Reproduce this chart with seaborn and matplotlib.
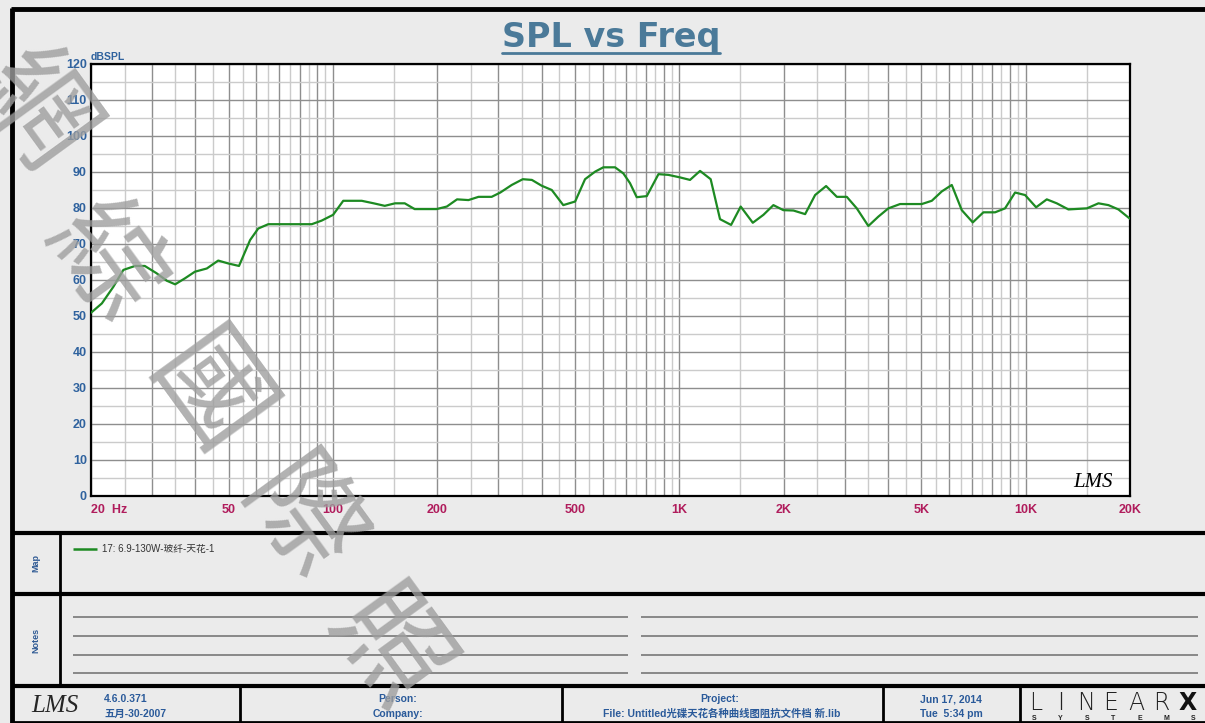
import matplotlib
matplotlib.use('Agg')
import matplotlib.pyplot as plt
import seaborn as sns
import pandas as pd
from matplotlib.lines import Line2D
from matplotlib.ticker import FixedLocator, NullFormatter

# SPL curve (Hz, dBSPL)
freq = [20, 21.5, 23.2, 24.8, 26.8, 28.6, 30.9, 33.1, 35.0, 37.4, 39.9, 43.2,
        46.6, 49.8, 53.5, 57.6, 60.8, 65.0, 86.8, 92.7, 100, 107, 121, 131,
        141, 151, 161, 172, 199, 213, 228, 246, 263, 287, 304, 328, 353, 375,
        400, 428, 462, 500, 534, 571, 603, 652, 689, 720, 753, 805, 870, 929,
        1004, 1073, 1147, 1231, 1310, 1410, 1503, 1629, 1748, 1868, 1996, 2134,
        2307, 2465, 2652, 2848, 3043, 3252, 3512, 3753, 4012, 4336, 5010, 5354,
        5722, 6115, 6536, 7032, 7545, 8155, 8715, 9316, 9956, 10713, 11502,
        12291, 13281, 15014, 16215, 17332, 18520, 20000]
spl = [50.9, 53.5, 58.1, 62.8, 63.9, 63.9, 61.9, 59.8, 58.8, 60.5, 62.3, 63.2,
       65.4, 64.6, 63.9, 71.1, 74.3, 75.5, 75.5, 76.5, 78.1, 82.0, 82.0, 81.3,
       80.6, 81.3, 81.3, 79.7, 79.7, 80.4, 82.4, 82.2, 83.1, 83.1, 84.3, 86.4,
       88.0, 87.8, 86.2, 85.0, 80.8, 81.8, 88.0, 90.1, 91.3, 91.3, 89.6, 86.9,
       83.0, 83.3, 89.4, 89.2, 88.5, 87.8, 90.3, 88.0, 76.9, 75.3, 80.4, 75.9,
       78.1, 80.8, 79.4, 79.3, 78.3, 83.6, 86.1, 83.1, 83.1, 79.9, 75.0, 77.6,
       79.9, 81.1, 81.1, 82.0, 84.6, 86.4, 79.4, 76.0, 78.8, 78.8, 79.9, 84.3,
       83.6, 80.2, 82.4, 81.3, 79.6, 79.9, 81.3, 80.8, 79.6, 77.0]

x_ticks = [20, 50, 100, 200, 500, 1000, 2000, 5000, 10000, 20000]
x_labels = ['20  Hz', '50', '100', '200', '500', '1K', '2K', '5K', '10K', '20K']
y_ticks = list(range(0, 121, 10))

curve_name = '17: 6.9-130W-玻纤-天花-1'
watermark = ['網', '綜', '國', '際', '照']

df = pd.DataFrame({'freq': freq, 'spl': spl})

W, H = 1205, 723
def fx(x):
    return x / W
def fy(y):
    return 1 - y / H

sns.set_style('white')
plt.rcParams['font.family'] = ['Liberation Sans', 'Noto Sans CJK SC', 'DejaVu Sans']

fig = plt.figure(figsize=(12.05, 7.23), dpi=100, facecolor='#ebebeb')
ax = fig.add_axes([fx(91), fy(496), fx(1130) - fx(91), fy(64) - fy(496)])
ax.set_facecolor('white')

sns.lineplot(data=df, x='freq', y='spl', color='#1d8a22', lw=1.6, ax=ax, zorder=3)

ax.set_xscale('log')
ax.set_xlim(20, 20000)
ax.set_ylim(0, 120)

major_x = [m * d for d in [10, 100, 1000, 10000] for m in range(1, 10) if 20 <= m * d <= 20000]
minor_x = [(m + 0.5) * d for d in [10, 100, 1000, 10000] for m in range(1, 10) if 20 <= (m + 0.5) * d <= 20000]
ax.xaxis.set_major_locator(FixedLocator(major_x))
ax.xaxis.set_minor_locator(FixedLocator(minor_x))
ax.xaxis.set_minor_formatter(NullFormatter())
ax.set_xticklabels([x_labels[x_ticks.index(v)] if v in x_ticks else '' for v in major_x])
ax.set_yticks(y_ticks)
ax.set_yticks(list(range(5, 120, 10)), minor=True)

ax.grid(which='major', color='#8e8e8e', lw=1.0)
ax.grid(which='minor', color='#cbcbcb', lw=1.0)
ax.tick_params(which='both', length=0)
ax.tick_params(axis='x', pad=6, labelsize=9, labelcolor='#b01c5c')
ax.tick_params(axis='y', pad=3, labelsize=9, labelcolor='#2f629e')
for lab in ax.get_xticklabels() + ax.get_yticklabels():
    lab.set_fontweight('bold')
ax.get_xticklabels()[0].set_horizontalalignment('left')
for s in ax.spines.values():
    s.set_color('black')
    s.set_linewidth(1.6)
ax.set_xlabel('')
ax.set_ylabel('')

ax.text(0, 1.005, 'dBSPL', transform=ax.transAxes, fontsize=7.5, fontweight='bold',
        color='#2f629e', ha='left', va='bottom')
ax.text(0.964, 0.032, 'LMS', transform=ax.transAxes, fontsize=15, style='italic',
        family='Liberation Serif', ha='center', va='center', color='black')

# title with underline
title = fig.text(fx(611), fy(38), 'SPL vs Freq', fontsize=24, fontweight='bold',
                 family='DejaVu Sans', color='#4b7a99', ha='center', va='center')
fig.canvas.draw()
bb = title.get_window_extent().transformed(fig.transFigure.inverted())
fig.add_artist(Line2D([bb.x0, bb.x1], [bb.y0 + 0.002, bb.y0 + 0.002], color='#4b7a99', lw=2))

def hline(y, x0, x1, lw=3, color='black'):
    fig.add_artist(Line2D([fx(x0), fx(x1)], [fy(y), fy(y)], color=color, lw=lw,
                          solid_capstyle='butt'))

def vline(x, y0, y1, lw=2, color='black'):
    fig.add_artist(Line2D([fx(x), fx(x)], [fy(y0), fy(y1)], color=color, lw=lw,
                          solid_capstyle='butt'))

# outer frame
hline(9, 11, 1205, lw=3.5)
vline(12, 8, 723, lw=3.5)
hline(533, 12, 1205, lw=3)
hline(594, 12, 1205, lw=3)
hline(686, 12, 1205, lw=3)
hline(722, 12, 1205, lw=2)
vline(60, 533, 686, lw=2)
for xv in [240, 562, 883, 1020]:
    vline(xv, 686, 723, lw=2)

# map panel
fig.text(fx(36), fy(563), 'Map', rotation=90, fontsize=6.5, fontweight='bold',
         color='#2f5a94', ha='center', va='center')
hline(549, 73, 97, lw=1.8, color='#1d8a22')
fig.text(fx(102), fy(549), curve_name, fontsize=7, color='#333333', ha='left', va='center')

# notes panel
fig.text(fx(36), fy(640), 'Notes', rotation=90, fontsize=6.5, fontweight='bold',
         color='#2f5a94', ha='center', va='center')
for yv in [617, 636, 655, 673]:
    hline(yv, 73, 628, lw=1.2, color='#777777')
    hline(yv, 641, 1198, lw=1.2, color='#777777')

# footer
blue = '#2a5a9a'
fig.text(fx(55), fy(706), 'LMS', fontsize=18, style='italic', family='Liberation Serif',
         ha='center', va='center')
fig.text(fx(104), fy(699), '4.6.0.371', fontsize=7.5, fontweight='bold', color=blue, va='center')
fig.text(fx(104), fy(714), '五月-30-2007', fontsize=7.5, fontweight='bold', color=blue, va='center')
fig.text(fx(398), fy(699), 'Person:', fontsize=7.5, fontweight='bold', color=blue, ha='center', va='center')
fig.text(fx(398), fy(714), 'Company:', fontsize=7.5, fontweight='bold', color=blue, ha='center', va='center')
fig.text(fx(720), fy(699), 'Project:', fontsize=7.5, fontweight='bold', color=blue, ha='center', va='center')
fig.text(fx(722), fy(714), 'File: Untitled光碟天花各种曲线图阻抗文件档 新.lib', fontsize=7.5,
         fontweight='bold', color=blue, ha='center', va='center')
fig.text(fx(951), fy(699), 'Jun 17, 2014', fontsize=7.5, fontweight='bold', color=blue, ha='center', va='center')
fig.text(fx(951), fy(714), 'Tue  5:34 pm', fontsize=7.5, fontweight='bold', color=blue, ha='center', va='center')
for i, ch in enumerate('LINEAR'):
    fig.text(fx(1036 + i * 25), fy(703), ch, fontsize=17, fontweight='light', family='DejaVu Sans',
             color='#222222', ha='center', va='center')
fig.text(fx(1188), fy(703), 'X', fontsize=17, fontweight='bold', family='DejaVu Sans',
         color='#111111', ha='center', va='center')
for i, ch in enumerate('SYSTEMS'):
    fig.text(fx(1034 + i * 26.5), fy(718), ch, fontsize=5, fontweight='bold',
             color='#222222', ha='center', va='center')

# watermark
for (cx, cy), ch in zip([(32, 112), (103, 264), (205, 398), (298, 522), (386, 650)], watermark):
    fig.text(fx(cx), fy(cy), ch, fontsize=82, family='Noto Sans CJK SC', color='#9e9e9e',
             alpha=0.8, rotation=-54, ha='center', va='center', zorder=10)

plt.savefig('out.png', dpi=100, facecolor=fig.get_facecolor())
